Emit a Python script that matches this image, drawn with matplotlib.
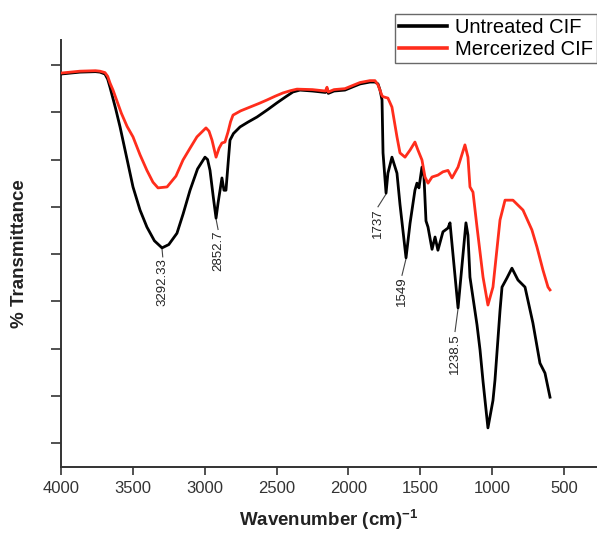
import numpy as np
import matplotlib
matplotlib.use("Agg")
import matplotlib.pyplot as plt

plt.rcParams['font.family'] = ['Liberation Sans', 'DejaVu Sans']
plt.rcParams['mathtext.fontset'] = 'custom'
plt.rcParams['mathtext.rm'] = 'Liberation Sans'
plt.rcParams['mathtext.bf'] = 'Liberation Sans:bold'

# FTIR spectra, wavenumber (cm-1) vs transmittance
untreated_wn = [4000, 3868, 3760, 3729, 3694, 3675, 3659, 3620, 3589, 3540, 3499,
                3450, 3402, 3350, 3297, 3250, 3193, 3150, 3102, 3050, 2998, 2980,
                2963, 2940, 2921, 2907, 2880, 2866, 2852, 2835, 2824, 2800, 2754,
                2700, 2636, 2560, 2497, 2440, 2386, 2337, 2250, 2160, 2149, 2140,
                2100, 2024, 1960, 1919, 1850, 1815, 1794, 1780, 1766, 1759, 1738,
                1725, 1697, 1662, 1641, 1599, 1571, 1537, 1523, 1509, 1488, 1474,
                1460, 1446, 1418, 1397, 1377, 1342, 1307, 1293, 1237, 1182, 1168,
                1154, 1105, 1084, 1063, 1029, 994, 980, 945, 931, 897, 862, 820,
                771, 716, 667, 632, 597]
untreated_t = [88.1, 88.5, 88.6, 88.5, 88.1, 87.0, 85.3, 80.8, 76.9, 70.0, 64.2,
               59.3, 55.7, 52.8, 51.3, 52.0, 54.4, 58.5, 63.5, 68.0, 70.5, 70.0,
               67.7, 62.0, 57.6, 60.8, 66.1, 63.5, 63.5, 70.0, 74.1, 75.5, 76.9,
               77.9, 79.0, 80.6, 82.0, 83.2, 84.3, 84.7, 84.5, 84.2, 85.0, 84.0,
               84.5, 84.7, 85.5, 86.0, 86.4, 86.4, 86.0, 84.7, 82.6, 71.4, 62.9,
               67.1, 70.5, 67.1, 60.5, 49.2, 56.5, 63.5, 65.0, 64.0, 68.4, 66.3,
               57.0, 55.7, 51.0, 53.6, 50.8, 54.7, 55.5, 56.6, 38.6, 56.6, 54.0,
               45.1, 35.0, 29.7, 23.0, 13.2, 19.0, 23.3, 38.0, 43.0, 44.9, 47.0,
               44.5, 43.0, 35.4, 26.9, 24.8, 19.7]

mercerized_wn = [4000, 3868, 3760, 3729, 3694, 3675, 3659, 3638, 3580, 3540, 3499,
                 3450, 3402, 3360, 3325, 3262, 3200, 3151, 3100, 3054, 2991, 2970,
                 2949, 2921, 2900, 2880, 2859, 2838, 2820, 2803, 2750, 2685, 2620,
                 2567, 2510, 2455, 2400, 2358, 2250, 2160, 2149, 2140, 2100, 2024,
                 1960, 1919, 1850, 1815, 1794, 1766, 1759, 1725, 1697, 1662, 1641,
                 1606, 1571, 1537, 1516, 1488, 1467, 1446, 1418, 1377, 1342, 1307,
                 1279, 1237, 1189, 1168, 1154, 1133, 1105, 1063, 1029, 994, 945,
                 910, 855, 785, 723, 688, 646, 611, 597]
mercerized_t = [88.3, 88.7, 88.8, 88.7, 88.4, 87.6, 86.2, 84.7, 79.8, 77.0, 74.8,
                71.0, 67.7, 65.2, 64.0, 64.2, 66.5, 69.9, 72.5, 74.8, 76.7, 76.0,
                74.1, 70.5, 72.4, 73.5, 73.7, 75.8, 78.0, 79.4, 80.3, 81.1, 81.9,
                82.6, 83.4, 84.1, 84.6, 84.9, 84.8, 84.5, 85.3, 84.3, 84.8, 85.0,
                85.8, 86.3, 86.7, 86.7, 85.8, 83.5, 83.3, 83.0, 81.1, 74.8, 71.4,
                70.5, 72.0, 73.7, 72.0, 69.9, 66.3, 65.0, 66.3, 66.7, 67.4, 67.7,
                66.1, 68.4, 73.1, 70.5, 64.2, 63.1, 55.7, 45.1, 39.2, 43.0, 57.2,
                61.4, 61.4, 59.3, 55.1, 51.5, 46.6, 43.0, 42.4]

# peak labels on the untreated spectrum
peak_labels = ['3292.33', '2852.7', '1737', '1549', '1238.5']
peak_wn = [3297, 2921, 1738, 1599, 1237]
label_wn = [3292, 2907, 1794, 1627, 1258]
label_t = [49.4, 55.2, 60.0, 45.5, 33.6]

fig = plt.figure(figsize=(5.97, 5.34), dpi=100)
ax = fig.add_axes([61 / 597, 1 - 467 / 534, 536 / 597, 427 / 534])

ax.plot(untreated_wn, untreated_t, color='black', lw=2.0, label='Untreated CIF',
        zorder=3, solid_joinstyle='round')
ax.plot(mercerized_wn, mercerized_t, color='#ff2d1c', lw=2.0, label='Mercerized CIF',
        zorder=4, solid_joinstyle='round')

for txt, pw, lw_, lt in zip(peak_labels, peak_wn, label_wn, label_t):
    pt = np.interp(pw, untreated_wn[::-1], untreated_t[::-1])
    ax.plot([pw, lw_], [pt - 0.2, lt], color='#444444', lw=0.8, zorder=2)
    ax.text(lw_, lt - 0.3, txt, rotation=90, ha='center', va='top',
            fontsize=9.5, color='#222222')

ax.set_xlim(4000, 270)
ax.set_ylim(4.92, 95.3)
ax.set_xticks([4000, 3500, 3000, 2500, 2000, 1500, 1000, 500])
ax.set_yticks(np.arange(10, 91, 10))
ax.set_yticklabels([])

for side in ['top', 'right']:
    ax.spines[side].set_visible(False)
for side in ['left', 'bottom']:
    ax.spines[side].set_color('#333333')
    ax.spines[side].set_linewidth(1.4)
ax.tick_params(axis='both', direction='out', color='#333333', width=1.2,
               labelsize=12, labelcolor='#333333')
ax.tick_params(axis='y', length=7)
ax.tick_params(axis='x', length=6, pad=4)

ax.set_xlabel(r'Wavenumber (cm)$^{\mathbf{-1}}$', fontsize=13.5, fontweight='bold', color='#222222')
ax.set_ylabel('% Transmittance', fontsize=13.5, fontweight='bold', color='#222222')
ax.xaxis.set_label_coords(0.5, -0.095)
ax.yaxis.set_label_coords(-0.062, 0.5)

leg = fig.legend(loc='upper right', bbox_to_anchor=(1.0, 1 - 14 / 534), fontsize=14.5,
                 frameon=True, fancybox=False, edgecolor='#444444', handlelength=2.4,
                 handletextpad=0.4, labelspacing=0.15, borderpad=0.2, borderaxespad=0)
leg.get_frame().set_linewidth(1.0)
for line in leg.get_lines():
    line.set_linewidth(2.6)

fig.savefig('out.png', dpi=100)
